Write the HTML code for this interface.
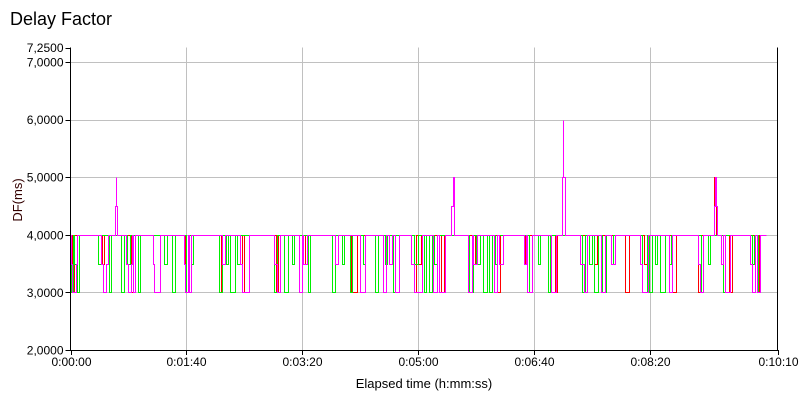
<!DOCTYPE html>
<html><head><meta charset="utf-8"><style>
body{margin:0;background:#fff;width:800px;height:400px;overflow:hidden}
svg{display:block;font-family:"Liberation Sans",sans-serif}
</style></head><body>
<svg id="chart" width="800" height="400">
<text x="10" y="25" font-size="18" fill="#000">Delay Factor</text>
<text transform="translate(22,200) rotate(-90)" text-anchor="middle" font-size="13" fill="#300">DF(ms)</text>
<text x="424" y="388" text-anchor="middle" font-size="13" fill="#000">Elapsed time (h:mm:ss)</text>
<g id="grid"></g>
<g id="series"></g>
<g id="axes"></g>
</svg>
<script>
const yTicks=[2,3,4,5,6,7,7.25];
const yTickLabels=["2,0000","3,0000","4,0000","5,0000","6,0000","7,0000","7,2500"];
const xTicks=[0,100,200,300,400,500,610];
const xTickLabels=["0:00:00","0:01:40","0:03:20","0:05:00","0:06:40","0:08:20","0:10:10"];
const baseline=4;
const endTime=600;
// events: [start, end, level]
const redEvents=[[1,3,3.0],[27,29,3.5],[52,54,3.0],[99,101,3.0],[128,130,3.0],[148,150,3.0],[177,179,3.0],[200,202,3.5],[242,247,3.0],[296,298,3.0],[300,302,3.5],[320,322,3.0],[349,351,3.5],[368,371,3.0],[392,394,3.5],[418,420,3.0],[452,454,3.5],[478,482,3.0],[495,497,3.5],[519,522,3.0],[541,544,3.0],[555,557,5.0],[568,571,3.0],[592,594,3.0]];
const greenEvents=[[0,2,3.0],[3,6,3.5],[6,7,3.0],[24,26,3.5],[33,35,3.0],[44,46,3.0],[49,51,3.5],[58,60,3.0],[81,83,3.5],[88,90,3.0],[100,102,3.0],[104,106,3.5],[128,131,3.0],[134,136,3.5],[138,142,3.0],[144,146,3.5],[176,178,3.0],[184,188,3.0],[191,193,3.5],[205,207,3.0],[226,228,3.0],[234,236,3.5],[241,243,3.0],[252,254,3.5],[263,265,3.0],[271,273,3.5],[278,280,3.0],[296,300,3.5],[305,307,3.0],[309,312,3.0],[314,316,3.5],[344,347,3.0],[350,353,3.5],[356,359,3.0],[361,364,3.0],[366,368,3.5],[396,398,3.0],[403,405,3.5],[412,414,3.0],[441,444,3.0],[447,450,3.5],[452,455,3.0],[459,462,3.0],[466,468,3.5],[493,497,3.0],[499,502,3.0],[504,506,3.5],[509,513,3.0],[516,518,3.5],[544,546,3.0],[550,552,3.5],[563,565,3.0],[588,590,3.5],[593,595,3.0]];
const magentaEvents=[[0,1,3.5],[1,5,3.0],[5,6,3.5],[26,28,3.5],[28,31,3.0],[31,32,3.5],[38,39,4.5],[39,39.6,5.0],[39.6,40,4.5],[48,50,3.5],[50,52,3.0],[52,53,3.5],[54,56,3.0],[71,72,3.5],[72,77,3.0],[98,99,3.5],[99,101,3.0],[102,104,3.0],[131,133,3.5],[146,148,3.5],[148,154,3.0],[176,178,3.5],[178,181,3.0],[197,200,3.0],[201,204,3.5],[228,231,3.5],[250,254,3.0],[270,272,3.0],[275,277,3.5],[280,283,3.0],[294,296,3.5],[296,303,3.0],[313,316,3.0],[318,323,3.0],[328,330,4.5],[330,330.6,5.0],[343,346,3.0],[347,351,3.5],[365,368,3.0],[370,373,3.5],[391,393,3.5],[394,398,3.0],[415,419,3.0],[424,424.6,5.0],[424.6,425.2,6.0],[425.2,426.4,5.0],[440,443,3.5],[443,446,3.0],[458,461,3.0],[466,470,3.5],[491,493,3.5],[493,498,3.0],[516,519,3.0],[541,543,3.5],[543,546,3.0],[555,556,4.5],[556,557,5.0],[557,558,4.5],[561,563,3.5],[565,569,3.0],[586,588,3.5],[588,591,3.0],[592,595,3.0]];

const X0=70.5,X1=777.5,Y0=350,Y1=47.5,TMAX=610,VMIN=2,VMAX=7.25;
const xs=t=>X0+(t/TMAX)*(X1-X0);
const ys=v=>Y0-(v-VMIN)/(VMAX-VMIN)*(Y0-Y1);
const NS="http://www.w3.org/2000/svg";
function mk(tag,attrs,parent){const e=document.createElementNS(NS,tag);for(const k in attrs)e.setAttribute(k,attrs[k]);parent.appendChild(e);return e;}
const grid=document.getElementById('grid'),axes=document.getElementById('axes'),ser=document.getElementById('series');
yTicks.forEach((v,i)=>{
  if(v>VMIN&&v<VMAX){const g=mk('line',{x1:X0,x2:X1,y1:Math.round(ys(v))+0.5,y2:Math.round(ys(v))+0.5,stroke:'#c0c0c0'},grid);
  
  }
  const tk=mk('line',{x1:X0-5,x2:X0,y1:Math.round(ys(v))+0.5,y2:Math.round(ys(v))+0.5,stroke:'#000'},axes);
  
  
  const t=mk('text',{x:X0-7,y:ys(v)+4.5,'text-anchor':'end','font-size':12,fill:'#000'},axes);t.textContent=yTickLabels[i];
  
  
});
xTicks.forEach((s,i)=>{
  const x=Math.round(xs(s))+0.5;
  if(s>0&&s<TMAX){const g=mk('line',{x1:x,x2:x,y1:Y1,y2:Y0,stroke:'#c0c0c0'},grid);
  
  }
  const tk=mk('line',{x1:x,x2:x,y1:Y0,y2:Y0+5,stroke:'#000'},axes);
  
  
  const t=mk('text',{x:x,y:Y0+16,'text-anchor':'middle','font-size':12,fill:'#000'},axes);t.textContent=xTickLabels[i];
  
  
});
const frame=mk('path',{d:`M${X0} ${Y1}V${Y0+0.5}H${X1}V${Y1}`,fill:'none',stroke:'#000'},axes);


function stepPath2(ev){
  let d=`M${xs(0)} ${Math.round(ys(baseline))+0.5}`;let cur=baseline,tcur=0;
  const Y=v=>Math.round(ys(v))+0.5,X=t=>Math.round(xs(t))+0.5;
  ev.forEach(([a,b,v])=>{
    if(a>tcur+0.01&&cur!==baseline){d+=`V${Y(baseline)}`;cur=baseline;}
    d+=`H${X(a)}`;if(cur!==v)d+=`V${Y(v)}`;cur=v;d+=`H${X(b)}`;tcur=b;
  });
  d+=`V${Y(baseline)}H${X(endTime)}`;return d;
}
[['red',redEvents,'#ff0000','series-red'],['green',greenEvents,'#00ee00','series-green'],['magenta',magentaEvents,'#ff00ff','series-magenta']].forEach(([n,ev,c,name])=>{
  const p=mk('path',{d:stepPath2(ev),fill:'none',stroke:c,'stroke-width':1,'shape-rendering':'crispEdges'},ser);
  
  
});
</script>
</body></html>
